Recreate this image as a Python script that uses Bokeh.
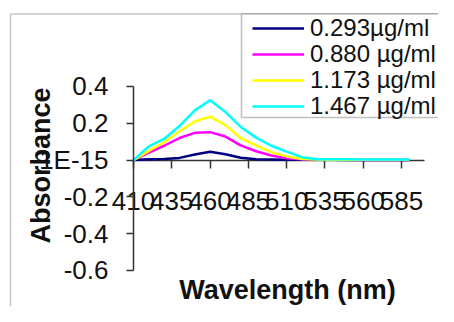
from bokeh.plotting import figure
from bokeh.models import FixedTicker, Range1d, Label, PolyAnnotation, Legend, LegendItem
from bokeh.embed import file_html
from bokeh.resources import INLINE

wavelength = [410, 420, 430, 440, 450, 460, 470, 480, 490, 500, 510, 520, 530, 540, 550, 560, 570, 580, 590]
abs_0293 = [0.000, 0.004, 0.006, 0.012, 0.030, 0.045, 0.032, 0.013, 0.005, 0.003, 0.002, 0.002, 0.002, 0.002, 0.001, 0.001, 0.001, 0.001, 0.001]
abs_0880 = [0.000, 0.040, 0.078, 0.120, 0.148, 0.152, 0.128, 0.080, 0.048, 0.025, 0.010, 0.004, 0.003, 0.002, 0.002, 0.001, 0.001, 0.001, 0.001]
abs_1173 = [0.000, 0.050, 0.097, 0.155, 0.210, 0.236, 0.190, 0.120, 0.080, 0.043, 0.020, 0.006, 0.003, 0.002, 0.002, 0.002, 0.002, 0.002, 0.002]
abs_1467 = [0.000, 0.075, 0.115, 0.185, 0.270, 0.325, 0.262, 0.180, 0.122, 0.078, 0.046, 0.016, 0.005, 0.004, 0.004, 0.003, 0.003, 0.003, 0.003]

series_names = ["0.293\u00b5g/ml", "0.880 \u00b5g/ml", "1.173 \u00b5g/ml", "1.467 \u00b5g/ml"]
series_values = [abs_0293, abs_0880, abs_1173, abs_1467]
series_colors = ["#000080", "#FF00FF", "#FFFF00", "#00FFFF"]

x_ticks = [410, 435, 460, 485, 510, 535, 560, 585]
x_axis_bounds = (410, 600)
y_ticks = [-0.6, -0.4, -0.2, 0.0, 0.2, 0.4]
y_tick_labels = ["-0.6", "-0.4", "-0.2", "1E-15", "0.2", "0.4"]
y_axis_bounds = (-0.6, 0.4)

FONT = "Liberation Sans"

p = figure(width=438, height=306, output_backend="svg", toolbar_location=None,
           x_range=Range1d(323.16, 609.13), y_range=Range1d(-0.7957, 0.8674),
           min_border=0)
p.outline_line_color = None
p.xgrid.visible = False
p.ygrid.visible = False
p.background_fill_color = "white"
p.border_fill_color = "white"

# outer frame (left and top edges visible)
p.add_layout(PolyAnnotation(xs=[329.7, 800, 800, 329.7], ys=[0.794, 0.794, -3, -3],
                            fill_alpha=0, line_color="#444444", line_width=1.5))
# legend box
p.add_layout(PolyAnnotation(xs=[480.5, 800, 800, 480.5], ys=[0.794, 0.794, 0.2315, 0.2315],
                            fill_color="white", fill_alpha=1, line_color="#333333", line_width=1.5))

renderers = []
for name, vals, col in zip(series_names, series_values, series_colors):
    r = p.line(wavelength, vals, line_color=col, line_width=2.5, line_join="round")
    renderers.append((name, r))

xa = p.xaxis[0]
xa.fixed_location = 0
xa.bounds = x_axis_bounds
xa.ticker = FixedTicker(ticks=x_ticks)
xa.minor_tick_line_color = None
xa.major_tick_in = 0
xa.major_tick_out = 8
xa.axis_line_color = "#333333"
xa.major_tick_line_color = "#333333"
xa.axis_line_width = 1.5
xa.major_tick_line_width = 1.5
xa.major_label_text_font = FONT
xa.major_label_text_font_size = "26px"
xa.major_label_text_color = "#111111"
xa.major_label_standoff = 24
xa.level = "underlay"

ya = p.yaxis[0]
ya.fixed_location = 410
ya.bounds = y_axis_bounds
ya.ticker = FixedTicker(ticks=y_ticks)
ya.major_label_overrides = {t: s for t, s in zip(y_ticks, y_tick_labels)}
ya.minor_tick_line_color = None
ya.major_tick_in = 0
ya.major_tick_out = 7
ya.axis_line_color = "#333333"
ya.major_tick_line_color = "#333333"
ya.axis_line_width = 1.5
ya.major_tick_line_width = 1.5
ya.major_label_text_font = FONT
ya.major_label_text_font_size = "26px"
ya.major_label_text_color = "#111111"
ya.major_label_standoff = 18

p.add_layout(Label(x=510.5, y=-0.7087, text="Wavelength (nm)", text_font=FONT,
                   text_font_size="27px", text_font_style="bold", text_color="#111111",
                   text_align="center", text_baseline="middle"))
p.add_layout(Label(x=349.3, y=-0.029, text="Absorbance", text_font=FONT,
                   text_font_size="27px", text_font_style="bold", text_color="#111111",
                   text_align="center", text_baseline="middle", angle=1.5708))

# one legend entry per row, stacked to the reference row spacing
legend_rows_y = [264.5, 238.5, 212.5, 186.5]
for (name, r), ly in zip(renderers, legend_rows_y):
    lg = Legend(items=[LegendItem(label=name, renderers=[r])],
                location=(252, ly), orientation="vertical",
                border_line_color=None, background_fill_alpha=0,
                padding=0, margin=0, spacing=0,
                glyph_width=52, label_standoff=6,
                label_text_font=FONT, label_text_font_size="24px", label_text_color="#111111")
    p.add_layout(lg)

open("out.html", "w").write(file_html(p, INLINE))
